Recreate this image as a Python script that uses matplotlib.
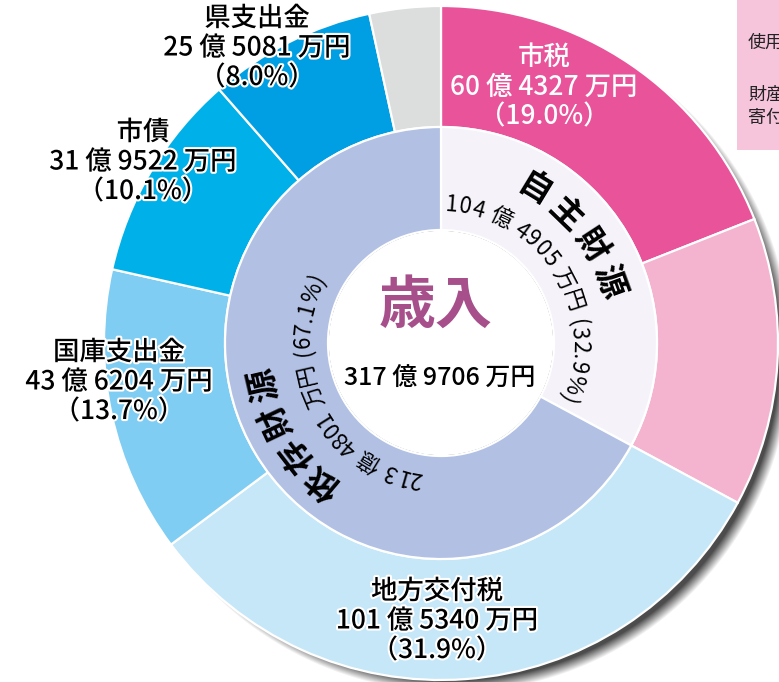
import numpy as np
import matplotlib.pyplot as plt
from matplotlib import patheffects
from matplotlib.patches import Rectangle, Circle
from matplotlib.font_manager import FontProperties, findfont, get_font

plt.rcParams['font.family'] = ['Noto Sans CJK JP', 'DejaVu Sans']

# 歳入 (単位: 万円)
total_text = '317 億 9706 万円'
group_names = ['自主財源', '依存財源']
group_values = [1044905, 2134801]
group_texts = ['104 億 4905 万円 (32.9%)', '213 億 4801 万円 (67.1%)']
group_colors = ['#f5f3f9', '#b1c0e3']

item_names = ['市税', 'その他', '地方交付税', '国庫支出金', '市債', '県支出金', 'その他']
item_values = [604327, 440578, 1015340, 436204, 319522, 255081, 108654]
item_amounts = ['60 億 4327 万円', '', '101 億 5340 万円', '43 億 6204 万円',
                '31 億 9522 万円', '25 億 5081 万円', '']
item_pcts = ['（19.0%）', '', '（31.9%）', '（13.7%）', '（10.1%）', '（8.0%）', '']
item_colors = ['#e8539a', '#f4b4cf', '#c6e7f8', '#7fcdf2', '#00b1e9', '#009fe3', '#dcdddd']

box_lines = ['使用料・手数料', '財産収入', '寄付金']

W, H = 779, 682
cx, cy = 441, H - 343
r_out, r_mid, r_in = 337, 216, 113

fig = plt.figure(figsize=(W / 100, H / 100), dpi=100)
ax = fig.add_axes([0, 0, 1, 1])

# drop shadow of the outer ring
yy, xx = np.mgrid[0:H, 0:W]
d = np.hypot(xx - (cx + 11), yy - (343 + 10))
alpha = np.clip((r_out + 2 - d) / 12, 0, 1)
shadow = np.zeros((H, W, 4))
shadow[..., :3] = 0.26
shadow[..., 3] = alpha * 0.95
ax.imshow(shadow, extent=(0, W, 0, H), origin='upper', zorder=0, interpolation='bilinear')

ax.pie(item_values, radius=r_out, center=(cx, cy), startangle=90, counterclock=False,
       colors=item_colors, wedgeprops=dict(width=r_out - r_mid, edgecolor='white', linewidth=1.6))
ax.pie(group_values, radius=r_mid, center=(cx, cy), startangle=90, counterclock=False,
       colors=group_colors, wedgeprops=dict(width=r_mid - r_in, edgecolor='white', linewidth=1.6))
ax.add_patch(Circle((cx, cy), r_in - 0.8, facecolor='white', edgecolor='none', zorder=1.5))

halo = [patheffects.withStroke(linewidth=3, foreground='white')]
label_pos = {0: (544, 87), 2: (437, 621), 3: (119, 382), 4: (143, 162), 5: (257, 48)}
for i, (x, y) in label_pos.items():
    txt = item_names[i] + '\n' + item_amounts[i] + '\n' + item_pcts[i]
    if i == 0:
        ax.text(x, H - y, txt, ha='center', va='center', fontsize=19, linespacing=1.12,
                fontweight='medium', color='white')
    else:
        ax.text(x, H - y, txt, ha='center', va='center', fontsize=19, linespacing=1.12,
                fontweight='medium', color='black', path_effects=halo)


def arc_text(s, r, start, end, size, weight='normal'):
    # text running clockwise along a circle, glyph tops facing outward
    prop = FontProperties(family='Noto Sans CJK JP', size=size, weight=weight)
    font = get_font(findfont(prop))
    font.set_size(size, 100)
    glyphs = [font.load_char(ord(ch)) for ch in s]
    advs = [g.linearHoriAdvance / 65536 for g in glyphs]
    span = np.radians(start - end) * r
    track = (span - sum(advs)) / (len(s) - 1)
    em = size * 100 / 72
    rb = r - 0.38 * em
    pos = 0.0
    for ch, g, adv in zip(s, glyphs, advs):
        if ch != ' ':
            ink_c = g.horiBearingX / 64 + g.width / 128
            th = start - np.degrees((pos + ink_c) / r)
            t = np.radians(th)
            ax.text(cx + rb * np.cos(t), cy + rb * np.sin(t), ch, rotation=th - 90,
                    rotation_mode='anchor', ha='center', va='baseline',
                    fontsize=size, fontweight=weight, color='black', zorder=4)
        pos += adv + track


arc_text(group_names[0], 182, 64, 15, 24, 'bold')
arc_text(group_names[1], 185, 235, 188, 24, 'bold')
arc_text(group_texts[0], 140, 88, -25, 16)
arc_text(group_texts[1], 140, 262, 151, 16)

ax.text(436, H - 306, '歳入', ha='center', va='center', fontsize=41, fontweight='bold',
        color='#a64f8b', zorder=4)
ax.text(440, H - 378, total_text, ha='center', va='center', fontsize=18, color='black',
        fontweight='medium', zorder=4)

# legend box at top right (cut off by the frame)
ax.add_patch(Rectangle((737, H - 150), 80, 150, facecolor='#f6c4db', edgecolor='none', zorder=3))
for txt, y in zip(box_lines, [43, 95, 118]):
    ax.text(748, H - y, txt, ha='left', va='center', fontsize=13, color='#222222', zorder=4)

ax.set_xlim(0, W)
ax.set_ylim(0, H)
ax.set_aspect('equal')
ax.axis('off')

fig.savefig('out.png', dpi=100)
